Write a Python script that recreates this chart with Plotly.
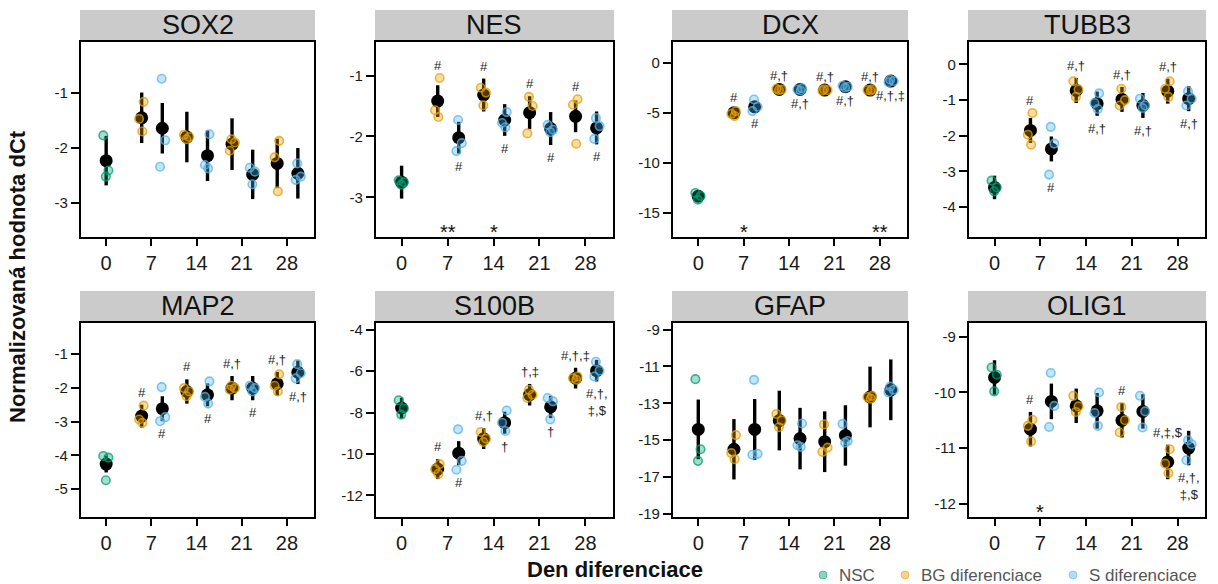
import plotly.graph_objects as go

W, H = 1218, 584

# ---------------- data ----------------
DAYS = [0, 7, 14, 21, 28]
GENES = ["SOX2", "NES", "DCX", "TUBB3", "MAP2", "S100B", "GFAP", "OLIG1"]
# group order inside every gene: NSC d0, BG d7, S d7, BG d14, S d14, BG d21, S d21, BG d28, S d28
GROUP_TYPE = ["NSC", "BG", "S", "BG", "S", "BG", "S", "BG", "S"]
GROUP_DAY = [0, 7, 7, 14, 14, 21, 21, 28, 28]
SERIES = ["NSC", "BG", "S"]
SERIES_NAMES = ["NSC", "BG diferenciace", "S diferenciace"]

SOX2_MEAN = [-2.23, -1.45, -1.64, -1.80, -2.14, -1.93, -2.48, -2.28, -2.46]
SOX2_ERR = [0.45, 0.46, 0.46, 0.46, 0.46, 0.47, 0.45, 0.45, 0.46]
SOX2_PTS = [[-1.77, -2.41, -2.52], [-1.16, -1.47, -1.70], [-0.74, -1.86, -2.34],
            [-1.76, -1.80, -1.84], [-1.75, -2.31, -2.37], [-1.84, -1.90, -2.05],
            [-2.36, -2.43, -2.66], [-1.87, -2.17, -2.79], [-2.28, -2.52, -2.58]]
SOX2_SIG = ["", "", "", "", "", "", "", "", ""]
SOX2_STARS = {}

NES_MEAN = [-2.75, -1.42, -2.02, -1.32, -1.73, -1.61, -1.87, -1.67, -1.86]
NES_ERR = [0.27, 0.26, 0.26, 0.27, 0.26, 0.27, 0.27, 0.26, 0.27]
NES_PTS = [[-2.72, -2.75, -2.79], [-1.04, -1.57, -1.68], [-1.73, -2.11, -2.24],
           [-1.20, -1.28, -1.49], [-1.60, -1.78, -1.85], [-1.35, -1.50, -1.95],
           [-1.81, -1.89, -1.93], [-1.39, -1.48, -2.12], [-1.70, -1.83, -2.04]]
NES_SIG = ["", "#", "#", "#", "#", "#", "#", "#", "#"]
NES_STARS = {7: "**", 14: "*"}

DCX_MEAN = [-13.33, -5.0, -4.4, -2.67, -2.67, -2.73, -2.4, -2.73, -1.83]
DCX_ERR = [0.3, 0.3, 0.4, 0.15, 0.15, 0.15, 0.15, 0.15, 0.2]
DCX_PTS = [[-13.0, -13.3, -13.67], [-4.83, -5.1, -5.33], [-3.67, -4.4, -4.83],
           [-2.6, -2.67, -2.73], [-2.55, -2.67, -2.77], [-2.65, -2.73, -2.8],
           [-2.3, -2.4, -2.5], [-2.65, -2.73, -2.8], [-1.7, -1.83, -1.95]]
DCX_SIG = ["", "#", "#", "#,†", "#,†", "#,†", "#,†", "#,†", "#,†,‡"]
DCX_STARS = {7: "*", 28: "**"}

TUBB3_MEAN = [-3.45, -1.85, -2.37, -0.73, -1.10, -0.98, -1.15, -0.75, -0.96]
TUBB3_ERR = [0.33, 0.35, 0.35, 0.35, 0.34, 0.35, 0.35, 0.35, 0.35]
TUBB3_PTS = [[-3.26, -3.45, -3.56], [-1.36, -1.97, -2.25], [-1.75, -2.22, -3.09],
             [-0.47, -0.70, -0.91], [-0.81, -1.08, -1.25], [-0.68, -1.00, -1.15],
             [-0.96, -1.15, -1.22], [-0.47, -0.68, -0.91], [-0.75, -0.96, -1.15]]
TUBB3_SIG = ["", "#", "#", "#,†", "#,†", "#,†", "#,†", "#,†", "#,†"]
TUBB3_STARS = {}

MAP2_MEAN = [-4.26, -2.84, -2.62, -2.11, -2.21, -2.01, -2.01, -1.88, -1.54]
MAP2_ERR = [0.25, 0.34, 0.37, 0.36, 0.34, 0.36, 0.36, 0.35, 0.35]
MAP2_PTS = [[-4.02, -4.07, -4.74], [-2.53, -2.94, -3.04], [-1.98, -2.87, -2.99],
            [-2.01, -2.11, -2.25], [-1.81, -2.27, -2.47], [-1.94, -2.01, -2.06],
            [-1.94, -2.01, -2.11], [-1.60, -1.94, -2.11], [-1.30, -1.57, -1.72]]
MAP2_SIG = ["", "#", "#", "#", "#", "#,†", "#", "#,†", "#,†"]
MAP2_STARS = {}

S100B_MEAN = [-7.78, -10.73, -9.96, -9.26, -8.49, -7.14, -7.73, -6.34, -5.98]
S100B_ERR = [0.5, 0.48, 0.58, 0.5, 0.53, 0.52, 0.54, 0.5, 0.52]
S100B_PTS = [[-7.41, -7.80, -8.10], [-10.49, -10.73, -10.96], [-8.81, -10.33, -10.76],
             [-8.94, -9.26, -9.42], [-7.90, -8.49, -8.89], [-6.90, -7.14, -7.30],
             [-7.30, -7.46, -8.33], [-6.26, -6.34, -6.42], [-5.55, -5.98, -6.26]]
S100B_SIG = ["", "#", "#", "#,†", "†", "†,‡", "†", "#,†,‡", "#,†,<br>‡,$"]
S100B_STARS = {}

GFAP_MEAN = [-14.42, -15.5, -14.42, -13.94, -14.92, -15.09, -14.75, -12.66, -12.27]
GFAP_ERR = [1.62, 1.64, 1.65, 1.62, 1.67, 1.65, 1.64, 1.65, 1.65]
GFAP_PTS = [[-11.69, -15.5, -16.13], [-14.73, -15.71, -16.04], [-11.73, -15.75, -15.80],
            [-13.58, -13.94, -14.30], [-14.10, -15.28, -15.37], [-14.15, -15.41, -15.64],
            [-14.12, -15.05, -15.14], [-12.60, -12.66, -12.75], [-12.09, -12.27, -12.41]]
GFAP_SIG = ["", "", "", "", "", "", "", "", ""]
GFAP_STARS = {}

OLIG1_MEAN = [-9.73, -10.66, -10.16, -10.24, -10.33, -10.50, -10.34, -11.25, -11.0]
OLIG1_ERR = [0.31, 0.31, 0.32, 0.31, 0.32, 0.31, 0.31, 0.31, 0.31]
OLIG1_PTS = [[-9.55, -9.68, -9.98], [-10.49, -10.60, -10.88], [-9.65, -10.24, -10.62],
             [-10.06, -10.25, -10.35], [-10.0, -10.37, -10.60], [-10.26, -10.50, -10.72],
             [-10.06, -10.34, -10.63], [-11.02, -11.28, -11.45], [-10.86, -10.93, -11.22]]
OLIG1_SIG = ["", "#", "", "", "", "#", "", "#,‡,$", "#,†,<br>‡,$"]
OLIG1_STARS = {7: "*"}

Y_TICKS = {
    "SOX2": [-1, -2, -3], "NES": [-1, -2, -3], "DCX": [0, -5, -10, -15],
    "TUBB3": [0, -1, -2, -3, -4], "MAP2": [-1, -2, -3, -4, -5],
    "S100B": [-4, -6, -8, -10, -12], "GFAP": [-9, -11, -13, -15, -17, -19],
    "OLIG1": [-9, -10, -11, -12],
}

DATA = {g: (globals()[g + "_MEAN"], globals()[g + "_ERR"], globals()[g + "_PTS"],
            globals()[g + "_SIG"], globals()[g + "_STARS"]) for g in GENES}

# ---------------- style ----------------
Y_RANGE = {
    "SOX2": [-3.62, -0.07], "NES": [-3.65, -0.45], "DCX": [-17.4, 2.07],
    "TUBB3": [-4.84, 0.63], "MAP2": [-5.83, -0.08], "S100B": [-13.04, -3.68],
    "GFAP": [-19.18, -8.64], "OLIG1": [-12.24, -8.75],
}
X_RANGE = [-3.9, 32.2]
COLORS = {"NSC": (0, 158, 115), "BG": (230, 159, 0), "S": (86, 180, 233)}
OFFSET = {"NSC": 0.0, "BG": -1.5, "S": 1.7}
JITTER = [[-0.45, 0.35, -0.05], [0.3, -0.4, 0.1], [-0.1, 0.45, -0.35]]
COL_PX = [(81, 314), (376, 613), (673, 907), (969, 1205)]
ROW_PX = [(42, 237), (323, 517)]
FONT = "Liberation Sans, Arial, sans-serif"
LEGEND_DOT_PX = [823, 905, 1073]
LEGEND_Y_PX = 575


def rgba(c, a):
    return "rgba(%d,%d,%d,%.2f)" % (c[0], c[1], c[2], a)


fig = go.Figure()
annotations = []
shapes = []

for gi, gene in enumerate(GENES):
    mean, err, pts, sig, stars = DATA[gene]
    r, c = divmod(gi, 4)
    idx = gi + 1
    xa = "x" if idx == 1 else "x%d" % idx
    ya = "y" if idx == 1 else "y%d" % idx
    xpos = [GROUP_DAY[i] + OFFSET[GROUP_TYPE[i]] for i in range(9)]

    fig.add_trace(go.Scatter(
        x=xpos, y=mean, mode="markers", xaxis=xa, yaxis=ya, showlegend=False,
        marker=dict(color="black", size=13),
        error_y=dict(type="data", array=err, symmetric=True, thickness=3.4, width=0, color="black"),
        hoverinfo="skip"))

    for gt in SERIES:
        xs, ys = [], []
        for i in range(9):
            if GROUP_TYPE[i] != gt:
                continue
            for k, v in enumerate(pts[i]):
                xs.append(xpos[i] + JITTER[i % 3][k])
                ys.append(v)
        fig.add_trace(go.Scatter(
            x=xs, y=ys, mode="markers", xaxis=xa, yaxis=ya, showlegend=False,
            marker=dict(color=rgba(COLORS[gt], 0.35), size=8.5,
                        line=dict(color=rgba(COLORS[gt], 0.75), width=1.6)),
            hoverinfo="skip"))

    # significance marks
    for i, lab in enumerate(sig):
        if not lab:
            continue
        if GROUP_TYPE[i] == "BG":
            yv = max(mean[i] + err[i], max(pts[i]))
            annotations.append(dict(x=xpos[i], y=yv, xref=xa, yref=ya, text=lab,
                                    showarrow=False, yanchor="bottom", yshift=3,
                                    font=dict(size=13, color="#222", family=FONT)))
        else:
            yv = min(mean[i] - err[i], min(pts[i]))
            annotations.append(dict(x=xpos[i], y=yv, xref=xa, yref=ya, text=lab,
                                    showarrow=False, yanchor="top", yshift=-3,
                                    font=dict(size=13, color="#222", family=FONT)))
    for d, s in stars.items():
        annotations.append(dict(x=d, y=0, xref=xa, yref=ya + " domain", text=s,
                                showarrow=False, yanchor="middle", yshift=5,
                                font=dict(size=20, color="#111", family=FONT)))

    x0, x1 = COL_PX[c]
    y0, y1 = ROW_PX[r]
    fig.layout["xaxis" if idx == 1 else "xaxis%d" % idx] = dict(
        domain=[x0 / W, x1 / W], range=X_RANGE, anchor=ya,
        tickvals=DAYS, ticktext=[str(d) for d in DAYS],
        ticks="outside", ticklen=7, tickwidth=2, tickcolor="black",
        showline=True, mirror=True, linecolor="black", linewidth=2.2,
        showgrid=False, zeroline=False, automargin=False,
        tickfont=dict(size=20, color="#1a1a1a", family=FONT))
    fig.layout["yaxis" if idx == 1 else "yaxis%d" % idx] = dict(
        domain=[(H - y1) / H, (H - y0) / H], range=Y_RANGE[gene], anchor=xa,
        tickvals=Y_TICKS[gene], ticktext=[str(t) for t in Y_TICKS[gene]],
        ticks="outside", ticklen=8, tickwidth=2, tickcolor="black",
        showline=True, mirror=True, linecolor="black", linewidth=2.2,
        showgrid=False, zeroline=False, automargin=False,
        tickfont=dict(size=15, color="#1a1a1a", family=FONT))

    # facet strip
    sy0 = y0 - 32
    sy1 = y0 - 2
    shapes.append(dict(type="rect", xref="paper", yref="paper",
                       x0=(x0 - 1) / W, x1=(x1 + 1) / W,
                       y0=(H - sy1) / H, y1=(H - sy0) / H,
                       fillcolor="#cbcbcb", line=dict(width=0), layer="below"))
    annotations.append(dict(x=(x0 + x1) / 2 / W, y=(H - (sy0 + sy1) / 2) / H,
                            xref="paper", yref="paper", text=gene, showarrow=False,
                            xanchor="center", yanchor="middle",
                            font=dict(size=27, color="#111", family=FONT)))

# manual legend (bottom right)
for k, gt in enumerate(SERIES):
    cx = LEGEND_DOT_PX[k]
    rad = 4
    shapes.append(dict(type="circle", xref="paper", yref="paper",
                       x0=(cx - rad) / W, x1=(cx + rad) / W,
                       y0=(H - LEGEND_Y_PX - rad) / H, y1=(H - LEGEND_Y_PX + rad) / H,
                       fillcolor=rgba(COLORS[gt], 0.45),
                       line=dict(color=rgba(COLORS[gt], 0.55), width=1)))
    annotations.append(dict(x=(cx + 14) / W, y=(H - LEGEND_Y_PX) / H,
                            xref="paper", yref="paper", text=SERIES_NAMES[k],
                            showarrow=False, xanchor="left", yanchor="middle",
                            font=dict(size=17, color="#555", family=FONT)))

annotations.append(dict(x=615 / W, y=(H - 569) / H, xref="paper", yref="paper",
                        text="<b>Den diferenciace</b>", showarrow=False,
                        xanchor="center", yanchor="middle",
                        font=dict(size=22, color="#111", family=FONT)))
annotations.append(dict(x=17 / W, y=(H - 277) / H, xref="paper", yref="paper",
                        text="<b>Normalizovaná hodnota dCt</b>", showarrow=False,
                        textangle=-90, xanchor="center", yanchor="middle",
                        font=dict(size=22, color="#111", family=FONT)))

fig.update_layout(
    width=W, height=H, margin=dict(l=0, r=0, t=0, b=0),
    paper_bgcolor="white", plot_bgcolor="white",
    annotations=annotations, shapes=shapes, showlegend=False,
    font=dict(family=FONT),
)

fig.write_html("out.html", config={"displayModeBar": False},
               post_script="document.body.style.margin='0';document.body.style.padding='0';"
                           "document.body.style.overflow='hidden';")
